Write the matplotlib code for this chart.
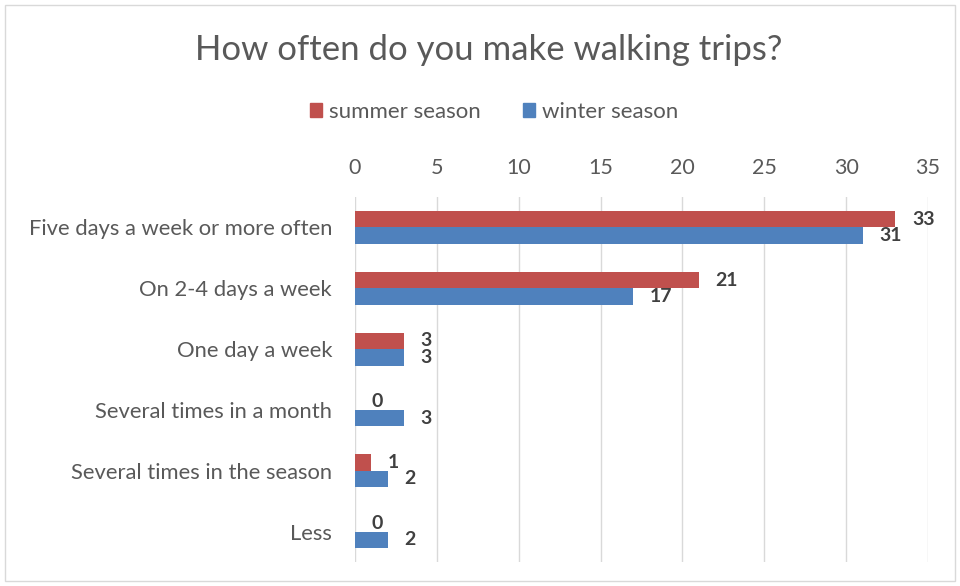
import matplotlib
matplotlib.use("Agg")
import matplotlib.pyplot as plt
from matplotlib.patches import Rectangle, Patch
import numpy as np

categories = ["Five days a week or more often", "On 2-4 days a week", "One day a week",
              "Several times in a month", "Several times in the season", "Less"]
summer = [33, 21, 3, 0, 1, 0]
winter = [31, 17, 3, 3, 2, 2]
xticks = [0, 5, 10, 15, 20, 25, 30, 35]
title = "How often do you make walking trips?"
series_names = ["summer season", "winter season"]

RED = "#C0504D"
BLUE = "#4F81BD"
TXT = "#595959"
LBL = "#404040"

plt.rcParams['font.family'] = ['Lato', 'DejaVu Sans']

fig = plt.figure(figsize=(9.6, 5.86), dpi=100)
fig.patches.append(Rectangle((5/960, 5/586), 950/960, 576/586, transform=fig.transFigure,
                             fill=False, edgecolor="#D9D9D9", lw=1))

ax = fig.add_axes([355/960, 1-562/586, (928-355)/960, (562-197)/586])
y = np.arange(len(categories))
h = 0.27
ax.barh(y - h/2, summer, height=h, color=RED, zorder=3)
ax.barh(y + h/2, winter, height=h, color=BLUE, zorder=3)

for i in range(len(categories)):
    for val, yy in ((summer[i], y[i] - h/2), (winter[i], y[i] + h/2)):
        ax.annotate(str(val), (val, yy), xytext=(12, 0), textcoords="offset points",
                    ha="left", va="center", fontsize=14, fontweight="bold", color=LBL)

ax.set_xlim(0, 35)
ax.set_ylim(len(categories) - 0.5, -0.5)
ax.set_xticks(xticks)
ax.xaxis.tick_top()
ax.set_yticks(y)
ax.set_yticklabels(categories)
ax.tick_params(axis="x", length=0, pad=14, labelsize=15.5, labelcolor=TXT)
ax.tick_params(axis="y", length=0, pad=16.5, labelsize=15.8, labelcolor=TXT)
ax.grid(axis="x", color="#D9D9D9", lw=1, zorder=0)
for s in ax.spines.values():
    s.set_visible(False)

fig.text(489/960, 1-50/586, title, ha="center", va="center", fontsize=25,
         fontweight="normal", color=TXT)

handles = [Patch(color=RED), Patch(color=BLUE)]
fig.legend(handles, series_names, loc="center", bbox_to_anchor=(494/960, 1-112/586),
           ncol=2, frameon=False, fontsize=16, labelcolor=TXT, handlelength=0.55,
           handleheight=0.55, handletextpad=0.3, columnspacing=1.9)

fig.savefig("out.png", dpi=100)
